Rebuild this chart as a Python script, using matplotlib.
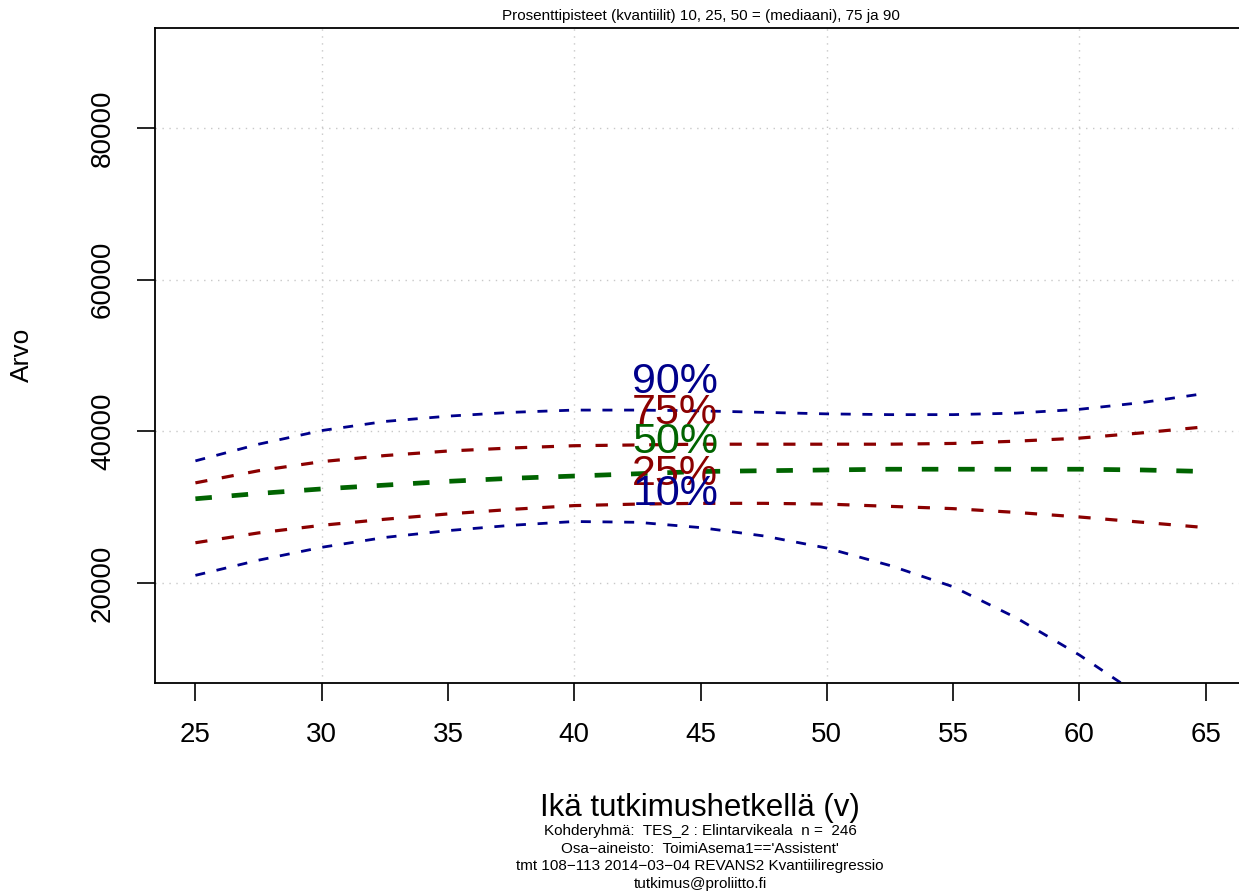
import matplotlib
matplotlib.use("Agg")
import matplotlib.pyplot as plt

plt.rcParams['font.family'] = ['Liberation Sans', 'DejaVu Sans']

age = [25, 27.5, 30, 32.5, 35, 37.5, 40, 42.5, 45, 47.5, 50, 52.5, 55, 57.5, 60, 62.5, 65]

# quantile curves
p90 = [36100, 38300, 40100, 41300, 42000, 42500, 42800, 42800, 42700, 42500,
       42300, 42200, 42200, 42400, 42900, 43800, 45000]
p75 = [33200, 34800, 36000, 36800, 37400, 37800, 38100, 38200, 38300, 38300,
       38300, 38300, 38400, 38700, 39100, 39800, 40600]
p50 = [31100, 31800, 32400, 32900, 33400, 33800, 34100, 34400, 34700, 34800,
       34900, 35000, 35000, 35000, 35000, 34900, 34700]
p25 = [25300, 26600, 27600, 28400, 29100, 29700, 30200, 30400, 30500, 30500,
       30400, 30100, 29800, 29300, 28700, 28000, 27300]
p10 = [21000, 23000, 24700, 26000, 26900, 27600, 28100, 28000, 27300, 26200,
       24600, 22300, 19500, 15400, 10500, 4900, -1200]

labels = ['90%', '75%', '50%', '25%', '10%']
label_y = [45100, 40900, 37200, 32900, 30300]   # baselines of the big labels

xticks = [25, 30, 35, 40, 45, 50, 55, 60, 65]
yticks = [20000, 40000, 60000, 80000]
grid_x = [30, 40, 50, 60]

navy = '#00008B'
dred = '#8B0000'
dgreen = '#006400'

fig = plt.figure(figsize=(12.39, 8.93), dpi=100)
ax = fig.add_axes([155/1239, 1 - 683/893, 1091/1239, 655/893])

# grid
for gx in grid_x:
    ax.axvline(gx, color='#C8C8C8', lw=1, linestyle=(0, (1, 4)), zorder=0)
for gy in yticks:
    ax.axhline(gy, color='#C8C8C8', lw=1, linestyle=(0, (1, 4)), zorder=0)

ax.plot(age, p90, color=navy, lw=2.0, dashes=(3.6, 4.2))
ax.plot(age, p75, color=dred, lw=2.3, dashes=(3.8, 4.6))
ax.plot(age, p50, color=dgreen, lw=3.4, dashes=(3.5, 4.2))
ax.plot(age, p25, color=dred, lw=2.3, dashes=(3.8, 4.6))
ax.plot(age, p10, color=navy, lw=2.0, dashes=(3.6, 4.2))

colors = [navy, dred, dgreen, dred, navy]
for lab, ly, c in zip(labels, label_y, colors):
    ax.text(44.0, ly, lab, color=c, fontsize=31, ha='center', va='baseline')

ax.set_xlim(23.4, 66.6)
ax.set_ylim(6800, 93200)
ax.set_xticks(xticks)
ax.set_yticks(yticks)
ax.set_xticklabels([str(t) for t in xticks])
ax.set_yticklabels([str(t) for t in yticks], rotation=90, va='center')
ax.tick_params(axis='both', length=13, width=1.2, labelsize=20, pad=15, direction='out')
for s in ax.spines.values():
    s.set_linewidth(1.3)

ax.set_title('Prosenttipisteet (kvantiilit) 10, 25, 50 = (mediaani), 75 ja 90',
             fontsize=11, pad=6)
fig.text(22/1239, 1 - 355/893, 'Arvo', rotation=90, fontsize=19,
         ha='center', va='center')

cx = 700/1239
fig.text(cx, 1 - 816/893, 'Ikä tutkimushetkellä (v)', fontsize=22.5,
         ha='center', va='baseline')
sub = ["Kohderyhmä:  TES_2 : Elintarvikeala  n =  246",
       "Osa\u2212aineisto:  ToimiAsema1=='Assistent'",
       "tmt 108\u2212113 2014\u221203\u221204 REVANS2 Kvantiiliregressio",
       "tutkimus@proliitto.fi"]
for i, line in enumerate(sub):
    fig.text(cx, 1 - (835 + i * 17.7) / 893, line, fontsize=11,
             ha='center', va='baseline')

fig.savefig('out.png', dpi=100)
